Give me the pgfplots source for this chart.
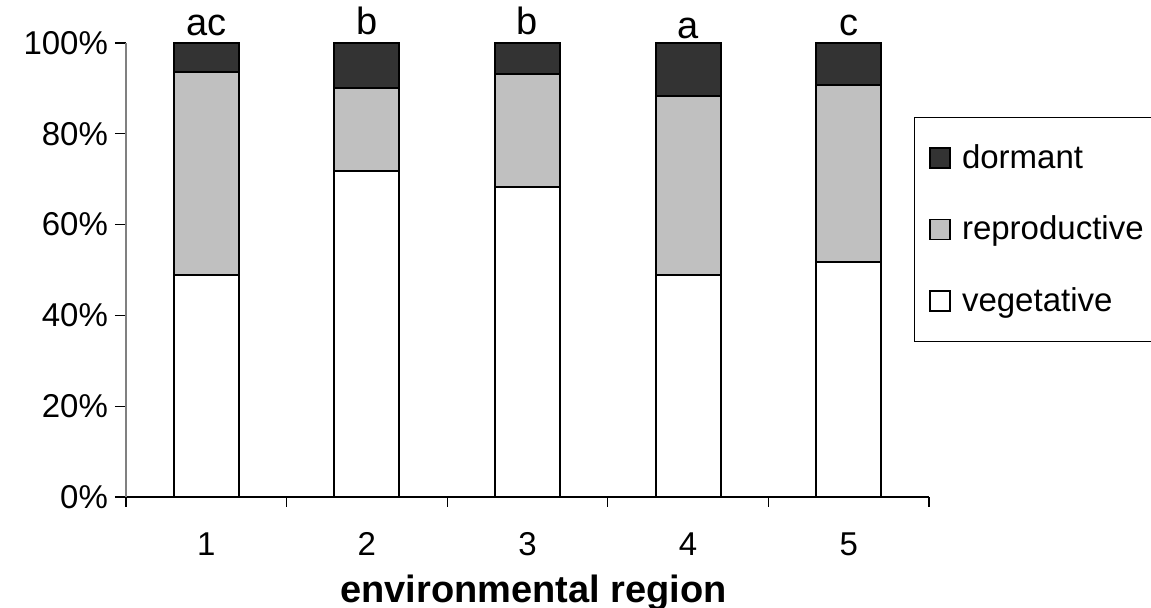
\documentclass[border=0pt]{standalone}
\usepackage{fontspec}
\setmainfont{Liberation Sans}
\usepackage{pgfplots}
\pgfplotsset{compat=1.18}
\definecolor{dorm}{HTML}{333333}
\definecolor{repro}{HTML}{C0C0C0}
\pgfplotsset{sqlegend/.style={legend image code/.code={\draw[##1, line width=0.8pt, draw=black] (0pt,-5pt) rectangle (10pt,5pt); \path[draw=none, fill=none] (0pt,0pt) -- (14pt,0pt);}}}
\begin{document}
\begin{tikzpicture}
\useasboundingbox (-63pt,-55.5pt) rectangle (512.5pt,248.5pt);
\begin{axis}[
  at={(0,0)}, anchor=south west,
  scale only axis, width=401.5pt, height=227pt,
  ybar stacked, bar width=32.5pt,
  xmin=0.5, xmax=5.5, ymin=0, ymax=100,
  axis x line*=bottom, axis y line*=left,
  x axis line style={-, black, line width=0.6pt},
  y axis line style={-, draw=gray, line width=0.8pt},
  xtick={1,2,3,4,5}, xticklabels={1,2,3,4,5},
  major x tick style={draw=none},
  minor xtick={0.5,1.5,2.5,3.5,4.5,5.5},
  tick align=outside, major tick length=5.5pt, minor tick length=5pt,
  ytick={0,20,40,60,80,100}, yticklabels={0\%,20\%,40\%,60\%,80\%,100\%},
  tick style={black, line width=0.6pt},
  ticklabel style={font=\fontsize{16.5}{20}\selectfont},
  xticklabel style={anchor=base, yshift=-24pt},
  xlabel={environmental region},
  xlabel style={font=\fontsize{19}{22}\selectfont\bfseries, anchor=base, at={(0.5,0)}, yshift=-53pt, xshift=3pt},
  legend style={at={(0.981,0.837)}, anchor=north west, draw=black, line width=0.5pt,
    font=\fontsize{16.5}{20}\selectfont, row sep=18.25pt, inner xsep=7.5pt, inner ysep=11.5pt, cells={anchor=west}},
  reverse legend,
  clip=false,
]
\addplot[fill=white, draw=black, line width=1pt, sqlegend] coordinates {(1,48.9) (2,71.8) (3,68.3) (4,48.8) (5,51.8)};
\addplot[fill=repro, draw=black, line width=1pt, sqlegend] coordinates {(1,44.7) (2,18.3) (3,24.9) (4,39.5) (5,38.9)};
\addplot[fill=dorm, draw=black, line width=1pt, sqlegend] coordinates {(1,6.4) (2,9.9) (3,6.8) (4,11.7) (5,9.3)};
\legend{vegetative, reproductive, dormant}
\node[font=\fontsize{19}{22}\selectfont, anchor=base] at (axis cs:1,100) [yshift=3.5pt] {ac};
\node[font=\fontsize{19}{22}\selectfont, anchor=base] at (axis cs:2,100) [yshift=4pt] {b};
\node[font=\fontsize{19}{22}\selectfont, anchor=base] at (axis cs:3,100) [yshift=4pt] {b};
\node[font=\fontsize{19}{22}\selectfont, anchor=base] at (axis cs:4,100) [yshift=2pt] {a};
\node[font=\fontsize{19}{22}\selectfont, anchor=base] at (axis cs:5,100) [yshift=3.5pt] {c};
\end{axis}
\end{tikzpicture}
\end{document}
